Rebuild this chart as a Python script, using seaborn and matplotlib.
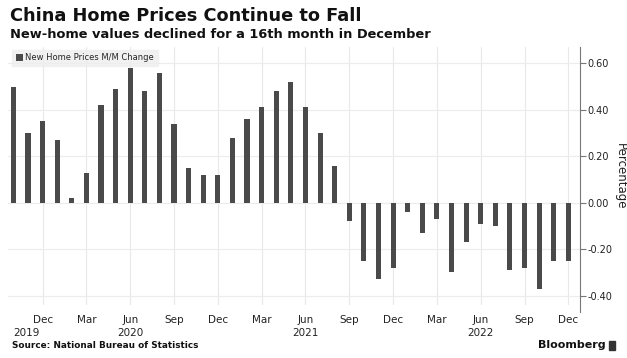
import numpy as np
import pandas as pd
import matplotlib.pyplot as plt
import matplotlib.transforms as mtransforms
import seaborn as sns

# monthly M/M change, Oct 2019 .. Dec 2022
months = pd.date_range("2019-10-01", "2022-12-01", freq="MS")
mm_change = [0.50, 0.30, 0.35,
             0.27, 0.02, 0.13, 0.42, 0.49, 0.58, 0.48, 0.56, 0.34, 0.15, 0.12, 0.12,
             0.28, 0.36, 0.41, 0.48, 0.52, 0.41, 0.30, 0.16, -0.08, -0.25, -0.33, -0.28,
             -0.04, -0.13, -0.07, -0.30, -0.17, -0.09, -0.10, -0.29, -0.28, -0.37, -0.25, -0.25]
tick_labels = ["Dec", "Mar", "Jun", "Sep", "Dec", "Mar", "Jun", "Sep", "Dec", "Mar", "Jun", "Sep", "Dec"]
tick_pos = [2, 5, 8, 11, 14, 17, 20, 23, 26, 29, 32, 35, 38]
year_labels = ["2019", "2020", "2021", "2022"]
year_pos = [0.9, 8, 20, 32]
y_ticks = [-0.4, -0.2, 0.0, 0.2, 0.4, 0.6]

df = pd.DataFrame({"month": months.strftime("%Y-%m"), "value": mm_change})

sns.set_style("white")
plt.rcParams["font.family"] = ["DejaVu Sans"]

fig = plt.figure(figsize=(6.27, 3.58), dpi=100)
ax = fig.add_axes([8 / 627, 1 - 305 / 358, 572 / 627, 258 / 358])

sns.barplot(data=df, x="month", y="value", color="#4a4a4a", saturation=1,
            width=0.35, linewidth=0, ax=ax, label="New Home Prices M/M Change")

ax.set_xlim(-0.37, 38.8)
ax.set_ylim(-0.44, 0.67)
ax.set_xlabel("")

ax.set_xticks(tick_pos)
ax.set_xticklabels(tick_labels, fontsize=7.5, color="#222222")
ax.tick_params(axis="x", length=0, pad=7)
for p in tick_pos:
    ax.axvline(p, color="#e8e8e8", lw=0.8, zorder=0)
for yv in y_ticks:
    ax.axhline(yv, color="#ececec", lw=0.8, zorder=0)

ax.yaxis.tick_right()
ax.set_yticks(y_ticks)
ax.set_yticklabels([f"{v:.2f}" for v in y_ticks], fontsize=7, color="#222222")
ax.tick_params(axis="y", length=4, width=0.8, color="#777777", pad=1.5, direction="out")
ax.yaxis.set_label_position("right")
ax.set_ylabel("Percentage", rotation=270, fontsize=8.5, color="#222222", va="center")
ax.yaxis.set_label_coords((620 - 8) / 572, 0.5)

for s in ["top", "left", "bottom"]:
    ax.spines[s].set_visible(False)
ax.spines["right"].set_color("#777777")
ax.spines["right"].set_linewidth(0.8)
ax.spines["right"].set_bounds(-0.47, 0.67)

year_trans = mtransforms.blended_transform_factory(ax.transData, fig.transFigure)
for lbl, p in zip(year_labels, year_pos):
    fig.text(p, 1 - 333 / 358, lbl, transform=year_trans,
             fontsize=7.5, color="#222222", ha="center", va="center")

leg = ax.legend(loc="upper left", bbox_to_anchor=(0.003, 1.0), frameon=True, fontsize=6,
                handlelength=0.8, handleheight=0.8, handletextpad=0.3, borderpad=0.45,
                borderaxespad=0.3, fancybox=False)
leg.get_frame().set_facecolor("#eeeeee")
leg.get_frame().set_edgecolor("#eeeeee")

fig.text(10 / 627, 1 - 16 / 358, "China Home Prices Continue to Fall", fontsize=12.8,
         fontweight="bold", va="center", ha="left", color="#111111")
fig.text(10 / 627, 1 - 35 / 358, "New-home values declined for a 16th month in December",
         fontsize=9.4, fontweight="bold", va="center", ha="left", color="#111111")
fig.text(12 / 627, 1 - 345 / 358, "Source: National Bureau of Statistics", fontsize=6.4,
         fontweight="bold", va="center", ha="left", color="#111111")
fig.text(606 / 627, 1 - 345 / 358, "Bloomberg", fontsize=8, fontweight="bold",
         va="center", ha="right", color="#111111")
fig.patches.append(plt.Rectangle((609 / 627, 1 - 350 / 358), 6 / 627, 9 / 358,
                                 transform=fig.transFigure, color="#333333"))

fig.savefig("out.png", dpi=100)
